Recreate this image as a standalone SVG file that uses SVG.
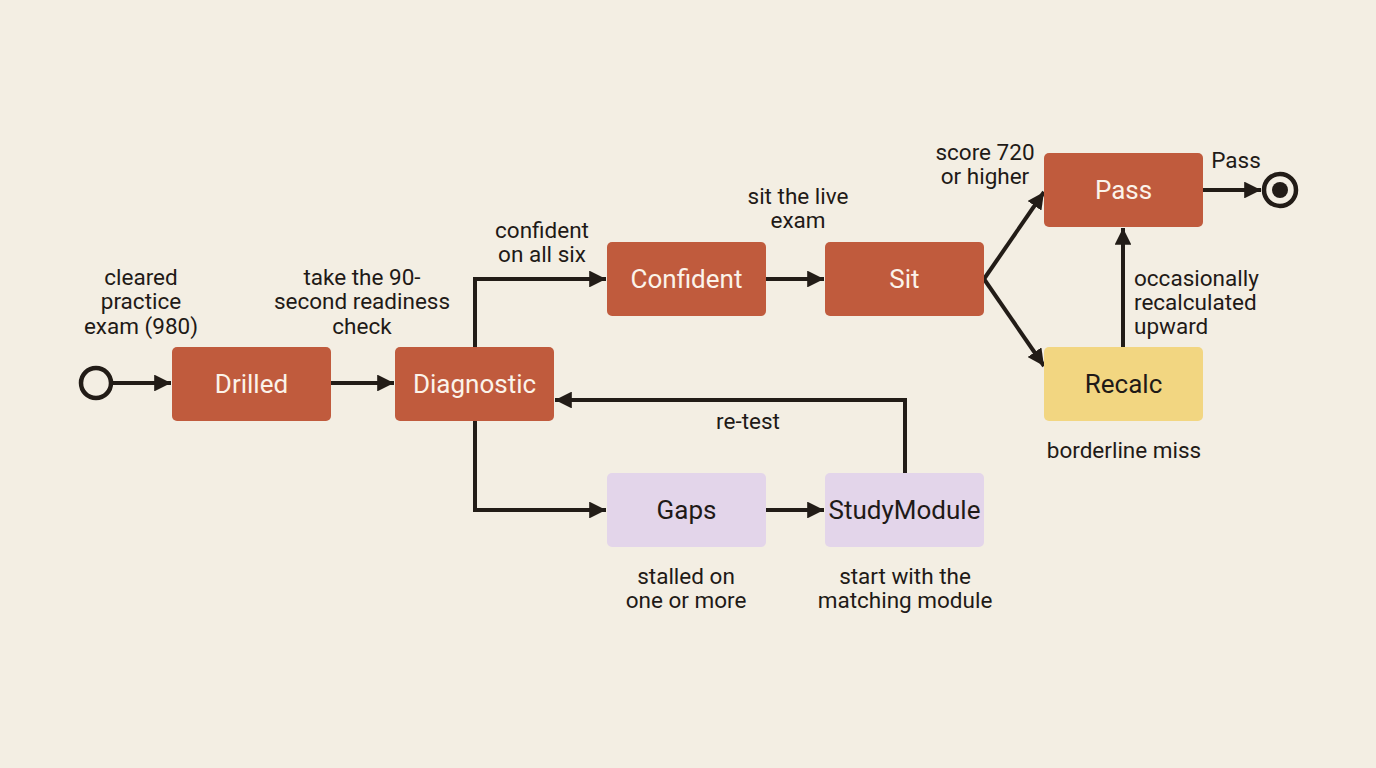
<svg xmlns="http://www.w3.org/2000/svg" width="1376" height="768" viewBox="0 0 1376 768">
<defs>
<style>
.bg{fill:#F3EEE3}
.n-red rect{fill:#C05B3D}
.n-red text{fill:#FBF3EA}
.n-yel rect{fill:#F2D681}
.n-lav rect{fill:#E3D5EA}
.n-yel text,.n-lav text{fill:#1F1A17}
.nt{font-family:Roboto,"Liberation Sans",sans-serif;font-size:26px;text-anchor:middle;dominant-baseline:central}
.lbl{font-family:Roboto,"Liberation Sans",sans-serif;font-size:22.5px;fill:#1F1A17;text-anchor:middle}
.edge{fill:none;stroke:#221C17;stroke-width:4;marker-end:url(#arr)}
</style>
<marker id="arr" viewBox="0 0 10 10" refX="10" refY="5" markerWidth="4.2" markerHeight="4.2" markerUnits="strokeWidth" orient="auto">
<path d="M0,0 L10,5 L0,10 Z" fill="#221C17"/>
</marker>
</defs>
<rect class="bg" x="0" y="0" width="1376" height="768"/>

<g id="connectors">
<path class="edge" d="M113,383 L171,383"/>
<path class="edge" d="M331,383 L394,383"/>
<path class="edge" d="M475,347 L475,279 L606,279"/>
<path class="edge" d="M475,421 L475,510 L606,510"/>
<path class="edge" d="M766,279 L824,279"/>
<path class="edge" d="M984,279 L1044,192"/>
<path class="edge" d="M984,279 L1044,366"/>
<path class="edge" d="M1123,347 L1123,228"/>
<path class="edge" d="M1203,190 L1261,190"/>
<path class="edge" d="M766,510 L824,510"/>
<path class="edge" d="M905,473 L905,400 L555,400"/>
</g>

<g id="start"><circle cx="96" cy="383" r="15" fill="none" stroke="#221C17" stroke-width="4.5"/></g>
<g id="end"><circle cx="1280" cy="190" r="16" fill="none" stroke="#221C17" stroke-width="4.5"/><circle cx="1280" cy="190" r="8" fill="#221C17"/></g>

<g id="Drilled" class="n-red"><rect x="172" y="347" width="159" height="74" rx="5"/><text class="nt" x="251.5" y="384">Drilled</text></g>
<g id="Diagnostic" class="n-red"><rect x="395" y="347" width="159" height="74" rx="5"/><text class="nt" x="474.5" y="384">Diagnostic</text></g>
<g id="Confident" class="n-red"><rect x="607" y="242" width="159" height="74" rx="5"/><text class="nt" x="686.5" y="279">Confident</text></g>
<g id="Sit" class="n-red"><rect x="825" y="242" width="159" height="74" rx="5"/><text class="nt" x="904.5" y="279">Sit</text></g>
<g id="Pass" class="n-red"><rect x="1044" y="153" width="159" height="74" rx="5"/><text class="nt" x="1123.5" y="190">Pass</text></g>
<g id="Recalc" class="n-yel"><rect x="1044" y="347" width="159" height="74" rx="5"/><text class="nt" x="1123.5" y="384">Recalc</text></g>
<g id="Gaps" class="n-lav"><rect x="607" y="473" width="159" height="74" rx="5"/><text class="nt" x="686.5" y="510">Gaps</text></g>
<g id="StudyModule" class="n-lav"><rect x="825" y="473" width="159" height="74" rx="5"/><text class="nt" x="904.5" y="510">StudyModule</text></g>

<g id="labels">
<text class="lbl" x="141" y="285">cleared</text>
<text class="lbl" x="141" y="309">practice</text>
<text class="lbl" x="141" y="334">exam (980)</text>
<text class="lbl" x="362" y="285">take the 90-</text>
<text class="lbl" x="362" y="309">second readiness</text>
<text class="lbl" x="362" y="334">check</text>
<text class="lbl" x="542" y="238">confident</text>
<text class="lbl" x="542" y="262">on all six</text>
<text class="lbl" x="798" y="204">sit the live</text>
<text class="lbl" x="798" y="228">exam</text>
<text class="lbl" x="985" y="160">score 720</text>
<text class="lbl" x="985" y="184">or higher</text>
<text class="lbl" x="1236" y="168">Pass</text>
<text class="lbl" x="1134" y="286" style="text-anchor:start">occasionally</text>
<text class="lbl" x="1134" y="310" style="text-anchor:start">recalculated</text>
<text class="lbl" x="1134" y="334" style="text-anchor:start">upward</text>
<text class="lbl" x="1124" y="458">borderline miss</text>
<text class="lbl" x="748" y="429">re-test</text>
<text class="lbl" x="686" y="584">stalled on</text>
<text class="lbl" x="686" y="608">one or more</text>
<text class="lbl" x="905" y="584">start with the</text>
<text class="lbl" x="905" y="608">matching module</text>
</g>
</svg>
